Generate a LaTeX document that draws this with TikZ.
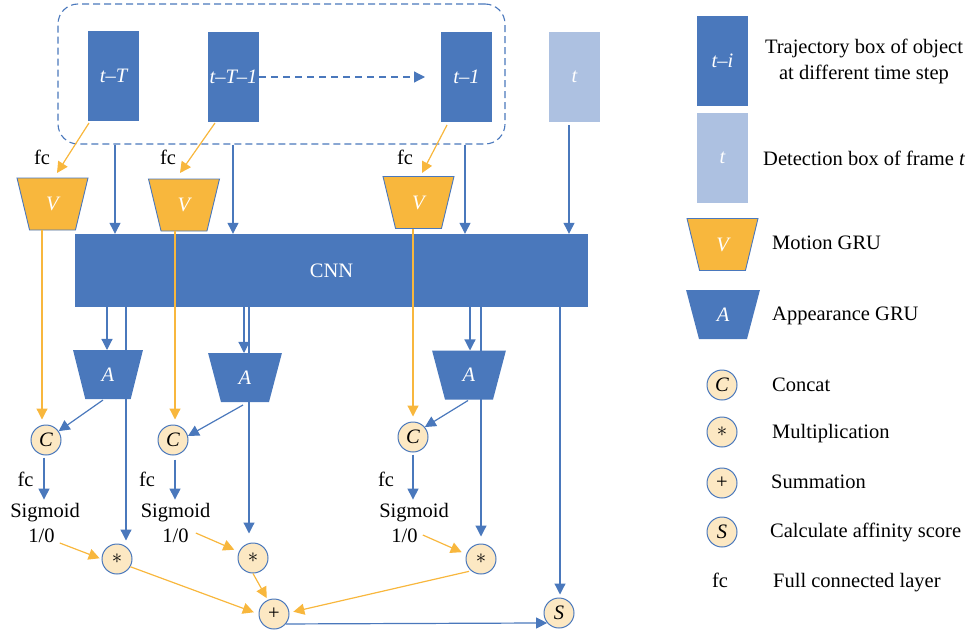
\documentclass[tikz,border=0pt]{standalone}
\usepackage{fontspec}
\setmainfont{Liberation Serif}
\usetikzlibrary{shapes.geometric,arrows.meta,calc,backgrounds}
\definecolor{bblue}{RGB}{74,120,188}
\definecolor{lblue}{RGB}{173,193,225}
\definecolor{orng}{RGB}{248,183,61}
\definecolor{beige}{RGB}{252,232,195}
\begin{document}
\begin{tikzpicture}[x=1pt,y=-1pt,
  font=\fontsize{20.5}{24}\selectfont,
  tbox/.style={fill=bblue, minimum width=51pt, minimum height=90pt, inner sep=0pt, outer sep=0pt, text=white, font=\fontsize{20.5}{24}\selectfont\itshape},
  histbox/.style={draw=bblue, dash pattern=on 7pt off 4pt, line width=1.1pt, rounded corners=20pt, minimum width=447pt, minimum height=140pt, inner sep=0pt},
  cnnbox/.style={fill=bblue, minimum width=513pt, minimum height=73pt, inner sep=0pt, text=white},
  trap/.style={trapezium, trapezium stretches=true, shape border rotate=180, trapezium angle=76, inner sep=0pt, outer sep=0pt, text=white, font=\fontsize{20.5}{24}\selectfont\itshape},
  vgru/.style={trap, fill=orng, draw=bblue, line width=0.9pt, minimum width=71pt, minimum height=52pt},
  agru/.style={trap, fill=bblue, minimum width=74pt, minimum height=49pt},
  op/.style={circle, draw=bblue, fill=beige, line width=1pt, minimum size=30pt, inner sep=0pt},
  itop/.style={op, font=\fontsize{20.5}{24}\selectfont\itshape},
  barrow/.style={draw=bblue, line width=1.2pt, -{Triangle[length=11pt,width=11pt]}},
  oarrow/.style={draw=orng, line width=1.2pt, -{Triangle[length=11pt,width=11pt]}},
  lbl/.style={anchor=base, inner sep=0pt},
  lgd/.style={anchor=base west, inner sep=0pt}
]
\useasboundingbox (0,0) rectangle (976,637);

% column coordinates
\coordinate (xa) at (115,0);
\coordinate (xb) at (233,0);
\coordinate (xc) at (465,0);
\coordinate (xt) at (569,0);
\coordinate (xo1) at (42,0);
\coordinate (xo2) at (175,0);
\coordinate (xo3) at (413,0);
\coordinate (xp1) at (107,0);
\coordinate (xp2) at (244,0);
\coordinate (xp3) at (470,0);
\coordinate (xq1) at (126,0);
\coordinate (xq2) at (249,0);
\coordinate (xq3) at (481,0);
\coordinate (xs) at (560,0);
\coordinate (xc1) at (44,0);
\coordinate (xc2) at (175,0);
\coordinate (xc3) at (413,0);

% history box and inputs
\node[histbox] (hist) at (281.5,74) {};
\node[tbox] (tT) at (113.5,76) {t–T};
\node[tbox] (tT1) at (233.5,77) {t–T–1};
\node[tbox] (t1) at (466.5,77) {t–1};
\node[tbox, fill=lblue] (tt) at (574.5,77) {t};

\node[cnnbox] (cnn) at (331.5,270.5) {CNN};

\node[vgru] (V1) at (52.5,204) {V};
\node[vgru] (V2) at (184,205) {V};
\node[vgru] (V3) at (418.5,202.5) {V};

\node[agru, minimum width=70pt] (A1) at (108,374.5) {A};
\node[agru] (A2) at (245,377.5) {A};
\node[agru] (A3) at (469,375) {A};

\node[itop] (C1) at (46,440) {C};
\node[itop] (C2) at (173,440) {C};
\node[itop] (C3) at (413,437) {C};
\node[op] (m1) at (117,559) {$\ast$};
\node[op] (m2) at (253,558) {$\ast$};
\node[op] (m3) at (481,559) {$\ast$};
\node[op] (plus) at (274,614) {+};
\node[itop] (S) at (559,613) {S};

% labels
\node[lbl] (fa1) at (42,164) {fc};
\node[lbl] (fa2) at (168,164) {fc};
\node[lbl] (fa3) at (405,164) {fc};
\node[lbl] (fb1) at (25.5,486) {fc};
\node[lbl] (fb2) at (147,486) {fc};
\node[lbl] (fb3) at (386,486) {fc};
\node[lbl] (sg1) at (45,517) {Sigmoid};
\node[lbl] (sg2) at (175.5,517) {Sigmoid};
\node[lbl] (sg3) at (414,517) {Sigmoid};
\node[lbl] (o1) at (41.5,542) {1/0};
\node[lbl] (o2) at (175.5,542) {1/0};
\node[lbl] (o3) at (404.5,542) {1/0};

% connectors: inputs
\draw[barrow, dash pattern=on 7pt off 5pt, shorten >=16pt] (tT1.east) -- (t1.west);
\draw[barrow] (xa |- hist.south) -- (xa |- cnn.north);
\draw[barrow] (xb |- hist.south) -- (xb |- cnn.north);
\draw[barrow] (xc |- hist.south) -- (xc |- cnn.north);
\draw[barrow, shorten <=3pt] (xt |- tt.south) -- (xt |- cnn.north);
\draw[oarrow] ($(tT.south west)+(1,2)$) -- ($(V1.north)+(4.5,-5)$);
\draw[oarrow] ($(tT1.south west)+(7,1)$) -- ($(V2.north)+(-4,-6)$);
\draw[oarrow] ($(t1.south west)+(6,3)$) -- ($(V3.north)+(3.5,-3.5)$);

% CNN to A, *, S
\draw[barrow] (xp1 |- cnn.south) -- (xp1 |- A1.north);
\draw[barrow] (xp2 |- cnn.south) -- (xp2 |- A2.north);
\draw[barrow] (xp3 |- cnn.south) -- (xp3 |- A3.north);
\begin{scope}[on background layer]
\draw[barrow, shorten >=3pt] (xq1 |- cnn.south) -- (xq1 |- m1.north);
\draw[barrow, shorten >=9pt] (xq2 |- cnn.south) -- (xq2 |- m2.north);
\draw[barrow, shorten >=7pt] (xq3 |- cnn.south) -- (xq3 |- m3.north);
\end{scope}
\draw[barrow, shorten >=3pt] (xs |- cnn.south) -- (xs |- S.north);

% V to C
\draw[oarrow, shorten >=5pt] (xo1 |- V1.south) -- (xo1 |- C1.north);
\draw[oarrow, shorten >=5pt] (xo2 |- V2.south) -- (xo2 |- C2.north);
\draw[oarrow, shorten >=5pt] (xo3 |- V3.south) -- (xo3 |- C3.north);

% A to C
\draw[barrow] ($(A1.south)+(-5,1)$) -- (C1.35);
\draw[barrow] ($(A2.south)+(-2,3)$) -- (C2.15);
\draw[barrow] ($(A3.south)+(-1,1)$) -- (C3.40);

% C to Sigmoid
\draw[barrow, shorten <=2pt, shorten >=3pt] (xc1 |- C1.south) -- (xc1 |- sg1.north);
\draw[barrow, shorten <=4pt, shorten >=3pt] (xc2 |- C2.south) -- (xc2 |- sg2.north);
\draw[barrow, shorten <=2pt, shorten >=3pt] (xc3 |- C3.south) -- (xc3 |- sg3.north);

% 1/0 to *
\draw[oarrow, shorten >=2pt] ($(o1.base east)+(5,1)$) -- (m1.west);
\draw[oarrow, shorten >=5pt] ($(o2.base east)+(7,-9)$) -- (m2.156);
\draw[oarrow, shorten >=5pt] ($(o3.base east)+(5,-7)$) -- (m3.162);

% * to +
\draw[oarrow, shorten >=5pt] (m1.-30) -- (plus.west);
\draw[oarrow, shorten >=2pt] (m2.south) -- (plus.114);
\draw[oarrow, shorten <=2pt, shorten >=4pt] (m3.-130) -- (plus.5);

% + to S
\draw[barrow] (plus.-40) -- (S.-140);

% legend
\node[tbox] (lti) at (722.5,60.5) {t–i};
\node[tbox, fill=lblue] (lt) at (722.5,158) {t};
\node[vgru] (lV) at (722.5,244.5) {V};
\node[agru] (lA) at (723,314.5) {A};
\node[itop] (lC) at (722,385) {C};
\node[op] (lm) at (722,432) {$\ast$};
\node[op] (lp) at (722,483) {+};
\node[itop] (lS) at (722,532) {S};
\node[lbl] (lfc) at (720,587) {fc};

\node[align=center, inner sep=0pt, font=\fontsize{20.5}{26}\selectfont] (d1) at (864,61) {Trajectory box of object\\at different time step};
\node[lgd] (d2) at (763,165) {Detection box of frame \textit{t}};
\node[lgd] (d3) at (772,249) {Motion GRU};
\node[lgd] (d4) at (772,320) {Appearance GRU};
\node[lgd] (d5) at (772,391) {Concat};
\node[lgd] (d6) at (772,438) {Multiplication};
\node[lgd] (d7) at (771,488) {Summation};
\node[lgd] (d8) at (770,537) {Calculate affinity score};
\node[lgd] (d9) at (773,587) {Full connected layer};
\end{tikzpicture}
\end{document}
